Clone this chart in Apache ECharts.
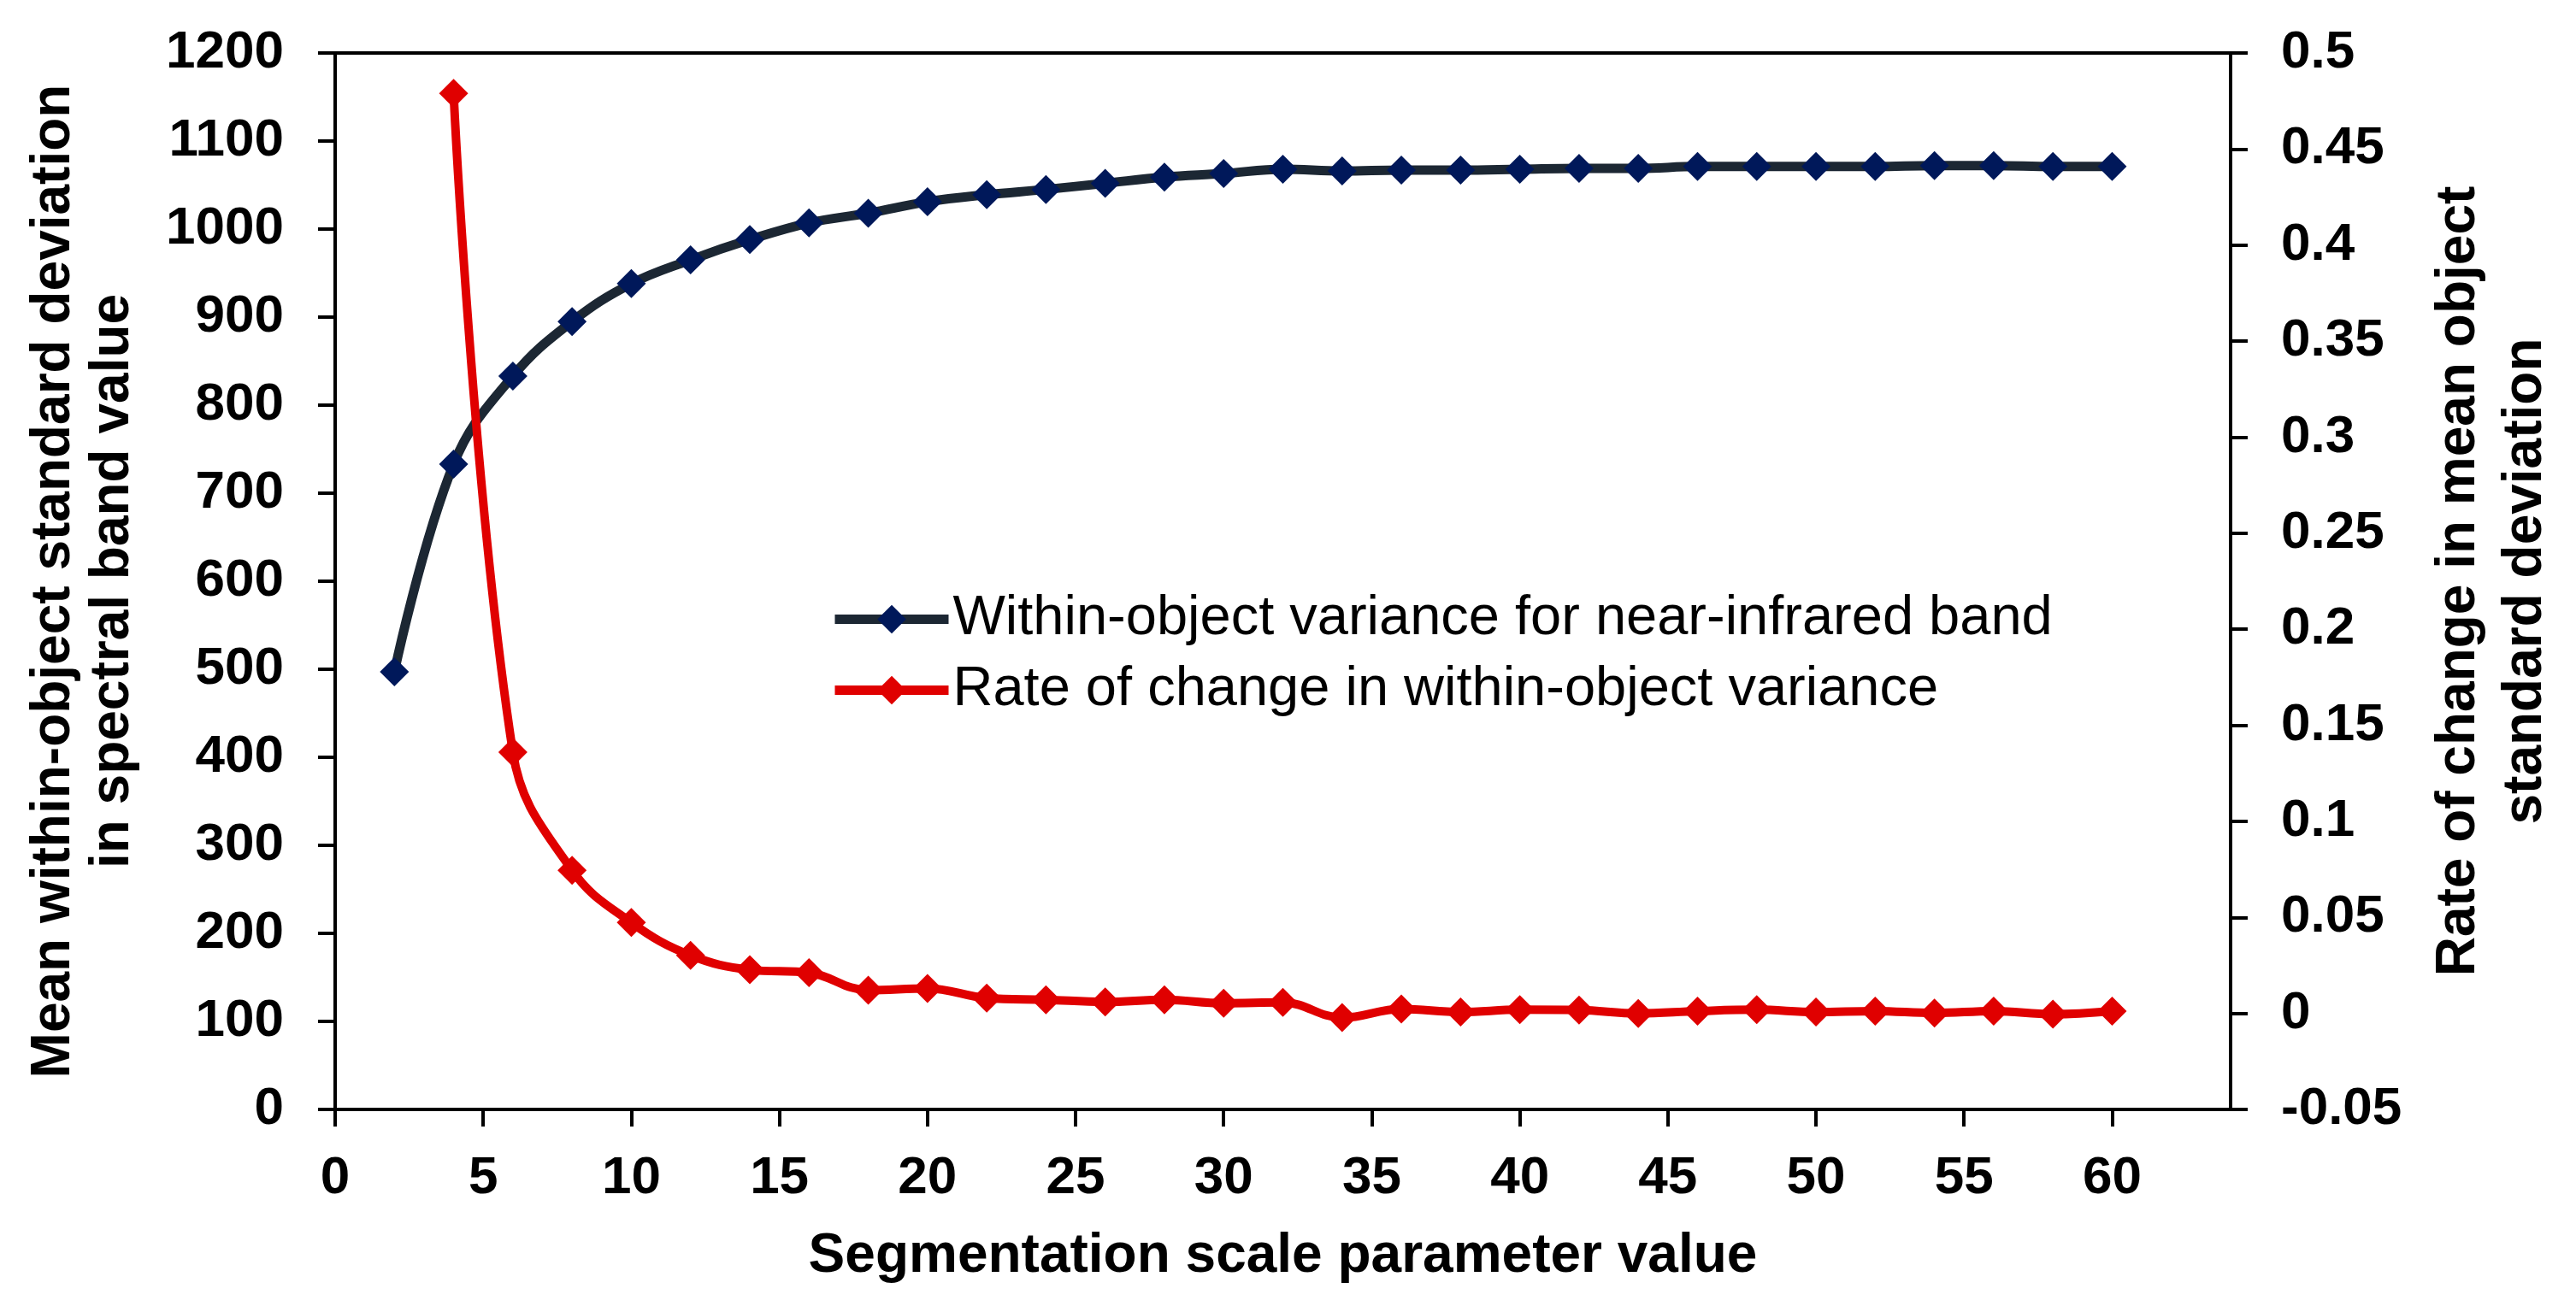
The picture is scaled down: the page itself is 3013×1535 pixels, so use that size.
<!DOCTYPE html>
<html>
<head>
<meta charset="utf-8">
<script src="https://cdn.jsdelivr.net/npm/echarts@6/dist/echarts.min.js"></script>
<style>
  html, body { margin: 0; padding: 0; background: #fff; }
</style>
</head>
<body>
<div id="main" style="width:3013px;height:1535px;"></div>
<script type="text/javascript">
// scale parameter values (x)
var scaleParams = [2, 4, 6, 8, 10, 12, 14, 16, 18, 20, 22, 24, 26, 28, 30,
                   32, 34, 36, 38, 40, 42, 44, 46, 48, 50, 52, 54, 56, 58, 60];
// within-object variance, near-infrared band (left axis)
var variance = [497, 733, 833, 895, 938, 965, 988, 1007, 1018, 1031, 1039, 1045, 1052, 1059, 1063,
                1068, 1066, 1067, 1067, 1068, 1069, 1069, 1071, 1071, 1071, 1071, 1072, 1072, 1071, 1071];
// rate of change (right axis), first value at scale 4
var rateX = [4, 6, 8, 10, 12, 14, 16, 18, 20, 22, 24, 26, 28, 30, 32,
             34, 36, 38, 40, 42, 44, 46, 48, 50, 52, 54, 56, 58, 60];
var rate = [0.479, 0.136, 0.0745, 0.0473, 0.0302, 0.0227, 0.0212, 0.0121, 0.013, 0.008, 0.0071, 0.006, 0.0071, 0.0053, 0.0057,
            -0.0022, 0.0023, 0.0007, 0.0019, 0.0017, 0.0, 0.0012, 0.0019, 0.0007, 0.0012, 0.0002, 0.0012, -0.0004, 0.0012];
// x tick labels
var xTicks = [0, 5, 10, 15, 20, 25, 30, 35, 40, 45, 50, 55, 60];

var FONT = '"Liberation Sans", Arial, sans-serif';

var myChart = echarts.init(document.getElementById('main'));

var option = {
    backgroundColor: '#fff',
    animation: false,
    grid: {
        left: 392, right: 404, top: 62, bottom: 237,
        show: true, borderColor: '#000', borderWidth: 4
    },
    legend: {
        orient: 'vertical',
        left: 966,
        top: 687,
        itemWidth: 133,
        itemHeight: 42,
        itemGap: 18,
        lineStyle: { width: 11 },
        textStyle: { fontFamily: FONT, fontSize: 65, color: '#000' },
        data: ['Within-object variance for near-infrared band', 'Rate of change in within-object variance']
    },
    xAxis: {
        type: 'value',
        min: 0,
        max: 64,
        interval: 5,
        name: 'Segmentation scale parameter value',
        nameLocation: 'middle',
        nameGap: 140,
        nameTextStyle: { fontFamily: FONT, fontSize: 64, fontWeight: 'bold', color: '#000' },
        axisLine: { onZero: false, lineStyle: { color: '#000', width: 4 } },
        axisTick: { length: 20, lineStyle: { color: '#000', width: 4 }, customValues: xTicks },
        axisLabel: { margin: 50, fontFamily: FONT, fontSize: 62, fontWeight: 'bold', color: '#000', customValues: xTicks },
        splitLine: { show: false }
    },
    yAxis: [{
        type: 'value',
        position: 'left',
        min: 0,
        max: 1200,
        interval: 100,
        name: 'Mean within-object standard deviation\nin spectral band value',
        nameLocation: 'middle',
        nameGap: 225,
        nameTextStyle: { fontFamily: FONT, fontSize: 64, fontWeight: 'bold', color: '#000', lineHeight: 69 },
        axisLine: { show: true, lineStyle: { color: '#000', width: 4 } },
        axisTick: { show: true, length: 20, lineStyle: { color: '#000', width: 4 } },
        axisLabel: {
            margin: 60, fontFamily: FONT, fontSize: 62, fontWeight: 'bold', color: '#000',
            formatter: function (v) { return String(v); }
        },
        splitLine: { show: false }
    }, {
        type: 'value',
        position: 'right',
        min: -0.05,
        max: 0.5,
        interval: 0.05,
        name: 'Rate of change in mean object\nstandard deviation',
        nameLocation: 'middle',
        nameGap: 228,
        nameTextStyle: { fontFamily: FONT, fontSize: 64, fontWeight: 'bold', color: '#000', lineHeight: 78 },
        axisLine: { show: true, lineStyle: { color: '#000', width: 4 } },
        axisTick: { show: true, length: 20, lineStyle: { color: '#000', width: 4 } },
        axisLabel: {
            margin: 59, fontFamily: FONT, fontSize: 62, fontWeight: 'bold', color: '#000',
            formatter: function (v) { return String(+v.toFixed(2)); }
        },
        splitLine: { show: false }
    }],
    series: [{
        name: 'Within-object variance for near-infrared band',
        type: 'line',
        yAxisIndex: 0,
        smooth: 0.4,
        symbol: 'diamond',
        symbolSize: 34,
        itemStyle: { color: '#00185A' },
        lineStyle: { color: '#1C2733', width: 11 },
        data: scaleParams.map(function (x, i) { return [x, variance[i]]; })
    }, {
        name: 'Rate of change in within-object variance',
        type: 'line',
        yAxisIndex: 1,
        smooth: 0.4,
        symbol: 'diamond',
        symbolSize: 34,
        itemStyle: { color: '#E00000' },
        lineStyle: { color: '#E00000', width: 10 },
        data: rateX.map(function (x, i) { return [x, rate[i]]; })
    }]
};
myChart.setOption(option);
</script>
</body>
</html>
